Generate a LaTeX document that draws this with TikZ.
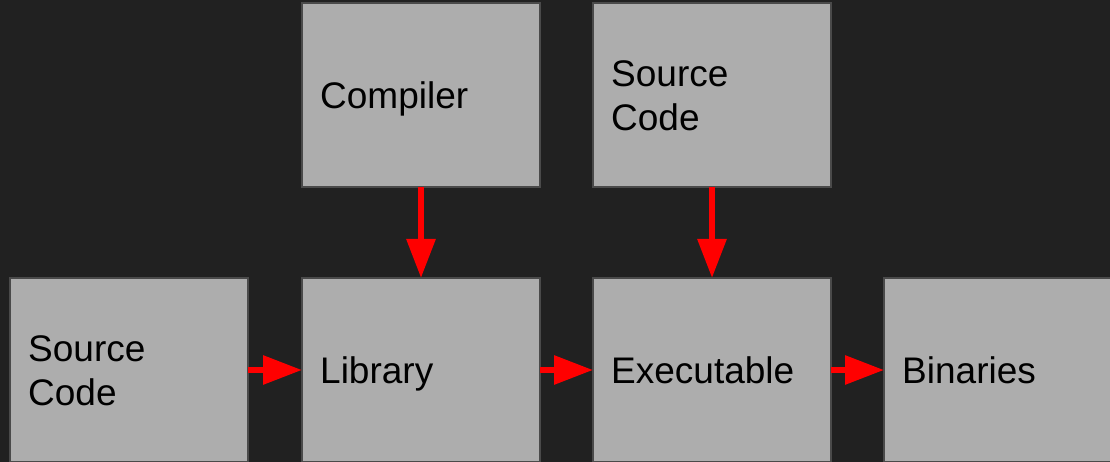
\documentclass[tikz,border=0pt]{standalone}
\usepackage{fontspec}
\setmainfont{Liberation Sans}
\usetikzlibrary{arrows.meta}
\definecolor{bg}{HTML}{212121}
\definecolor{boxfill}{HTML}{ADADAD}
\definecolor{boxline}{HTML}{4A4A4A}
\tikzset{
  box/.style={draw=boxline, line width=1.5pt, fill=boxfill, minimum width=238pt, minimum height=184pt, inner sep=0pt, outer sep=0pt},
  lbl/.style={anchor=base west, inner sep=0pt, font=\fontsize{37}{44}\selectfont, text=black},
  flow/.style={draw=red, line width=6pt, -{Triangle[length=39pt,width=28pt]}}
}
\begin{document}
\begin{tikzpicture}[x=1pt,y=-1pt]
\useasboundingbox (0,0) rectangle (1110,462);
\fill[bg] (0,0) rectangle (1110,462);
\begin{scope}
\clip (0,0) rectangle (1110,462);
\node[box] (compiler) at (421,95) {};
\node[box] (srctop) at (712,95) {};
\node[box] (srcleft) at (129,370) {};
\node[box] (library) at (421,370) {};
\node[box] (exec) at (712,370) {};
\node[box] (bin) at (1003,370) {};
\end{scope}
\node[lbl] (tcompiler) at (320,108.5) {Compiler};
\node[lbl] (tsrctop1) at (611,86.7) {Source};
\node[lbl] (tsrctop2) at (611,130.7) {Code};
\node[lbl] (tsrcleft1) at (28,361.7) {Source};
\node[lbl] (tsrcleft2) at (28,405.7) {Code};
\node[lbl] (tlibrary) at (320,383.5) {Library};
\node[lbl] (texec) at (611,383.5) {Executable};
\node[lbl] (tbin) at (902,383.5) {Binaries};
\draw[flow] (compiler.south) -- (library.north);
\draw[flow] (srctop.south) -- (exec.north);
\draw[flow] (srcleft.east) -- (library.west);
\draw[flow] (library.east) -- (exec.west);
\draw[flow] (exec.east) -- (bin.west);
\end{tikzpicture}
\end{document}
